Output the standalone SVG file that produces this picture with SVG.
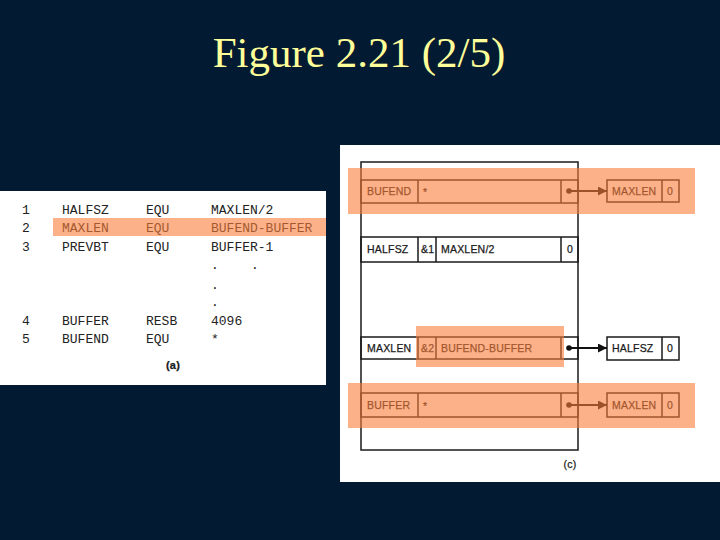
<svg xmlns="http://www.w3.org/2000/svg" width="720" height="540" viewBox="0 0 720 540">
<defs>
<style>
.bg{fill:#031a33}
.title{font-family:"Liberation Serif",serif;font-size:43px;fill:#ffff99}
.code{font-family:"Liberation Mono",monospace;font-size:13px;fill:#222}
.lab{font-family:"Liberation Sans",Arial,sans-serif;font-size:10.5px;fill:#1a1a1a;stroke:#1a1a1a;stroke-width:0.25;letter-spacing:0.2px}
.cell{fill:none;stroke:#1a1a1a;stroke-width:1.5}
.hl{fill:rgb(250,125,58);fill-opacity:0.6}
.conn{stroke:#111;stroke-width:1.8;fill:none}
</style>
<marker id="ah" viewBox="0 0 10 10" refX="10" refY="5" markerWidth="9" markerHeight="9" markerUnits="userSpaceOnUse" orient="auto"><path d="M0,0L10,5L0,10z" fill="#111"/></marker>
</defs>
<rect class="bg" x="0" y="0" width="720" height="540"/>
<text class="title" x="359" y="67" text-anchor="middle">Figure 2.21 (2/5)</text>

<g id="panel-a">
<rect x="0" y="191" width="326" height="194" fill="#fff"/>
<text class="code" x="22" y="214">1</text><text class="code" x="62" y="214">HALFSZ</text><text class="code" x="146" y="214">EQU</text><text class="code" x="211" y="214">MAXLEN/2</text>
<text class="code" x="22" y="232">2</text><text class="code" x="62" y="232">MAXLEN</text><text class="code" x="146" y="232">EQU</text><text class="code" x="211" y="232">BUFEND-BUFFER</text>
<text class="code" x="22" y="251">3</text><text class="code" x="62" y="251">PREVBT</text><text class="code" x="146" y="251">EQU</text><text class="code" x="211" y="251">BUFFER-1</text>
<text class="code" x="211" y="269">.</text><text class="code" x="251" y="269">.</text>
<text class="code" x="211" y="289">.</text>
<text class="code" x="211" y="306">.</text>
<text class="code" x="22" y="325">4</text><text class="code" x="62" y="325">BUFFER</text><text class="code" x="146" y="325">RESB</text><text class="code" x="211" y="325">4096</text>
<text class="code" x="22" y="343">5</text><text class="code" x="62" y="343">BUFEND</text><text class="code" x="146" y="343">EQU</text><text class="code" x="211" y="343">*</text>
<text class="lab" x="173" y="369" text-anchor="middle" style="font-weight:bold;font-size:11px">(a)</text>
<rect class="hl" x="53" y="218" width="273" height="18"/>
</g>

<rect x="340" y="145" width="380" height="337" fill="#fff"/>
<g id="table">
<rect class="cell" x="361" y="162" width="217" height="288"/>
</g>
<g id="row-bufend">
<rect class="cell" x="361" y="180" width="217" height="23"/>
<line class="cell" x1="418" y1="180" x2="418" y2="203"/><line class="cell" x1="561" y1="180" x2="561" y2="203"/>
<text class="lab" x="367" y="195">BUFEND</text><text class="lab" x="423" y="196">*</text>
</g>
<g id="row-halfsz">
<rect class="cell" x="361" y="237" width="217" height="25"/>
<line class="cell" x1="418" y1="237" x2="418" y2="262"/><line class="cell" x1="436" y1="237" x2="436" y2="262"/><line class="cell" x1="561" y1="237" x2="561" y2="262"/>
<text class="lab" x="367" y="253">HALFSZ</text><text class="lab" x="421" y="253">&amp;1</text><text class="lab" x="441" y="253">MAXLEN/2</text><text class="lab" x="567" y="253">0</text>
</g>
<g id="row-maxlen">
<rect class="cell" x="361" y="337" width="217" height="22"/>
<line class="cell" x1="418" y1="337" x2="418" y2="359"/><line class="cell" x1="436" y1="337" x2="436" y2="359"/><line class="cell" x1="561" y1="337" x2="561" y2="359"/>
<text class="lab" x="367" y="352">MAXLEN</text><text class="lab" x="421" y="352">&amp;2</text><text class="lab" x="441" y="352">BUFEND-BUFFER</text>
</g>
<g id="row-buffer">
<rect class="cell" x="361" y="393" width="217" height="24"/>
<line class="cell" x1="418" y1="393" x2="418" y2="417"/><line class="cell" x1="561" y1="393" x2="561" y2="417"/>
<text class="lab" x="367" y="409">BUFFER</text><text class="lab" x="423" y="410">*</text>
</g>
<g id="box-maxlen-1">
<rect class="cell" x="607" y="180" width="72" height="22"/><line class="cell" x1="662" y1="180" x2="662" y2="202"/>
<text class="lab" x="612" y="195">MAXLEN</text><text class="lab" x="667" y="195">0</text>
</g>
<g id="box-halfsz">
<rect class="cell" x="607" y="337" width="72" height="23"/><line class="cell" x1="662" y1="337" x2="662" y2="360"/>
<text class="lab" x="612" y="352">HALFSZ</text><text class="lab" x="667" y="352">0</text>
</g>
<g id="box-maxlen-2">
<rect class="cell" x="607" y="393" width="72" height="24"/><line class="cell" x1="662" y1="393" x2="662" y2="417"/>
<text class="lab" x="612" y="409">MAXLEN</text><text class="lab" x="667" y="409">0</text>
</g>
<g id="connectors">
<circle cx="569" cy="191" r="2.8" fill="#111"/><line class="conn" x1="569" y1="191" x2="607" y2="191" marker-end="url(#ah)"/>
<circle cx="569" cy="348" r="2.8" fill="#111"/><line class="conn" x1="569" y1="348" x2="607" y2="348" marker-end="url(#ah)"/>
<circle cx="569" cy="405" r="2.8" fill="#111"/><line class="conn" x1="569" y1="405" x2="607" y2="405" marker-end="url(#ah)"/>
</g>
<text class="lab" x="570" y="468" text-anchor="middle">(c)</text>
<g id="highlights">
<rect class="hl" x="348" y="168" width="347" height="46"/>
<rect class="hl" x="416" y="326" width="148" height="41"/>
<rect class="hl" x="348" y="383" width="347" height="45"/>
</g>
</svg>
